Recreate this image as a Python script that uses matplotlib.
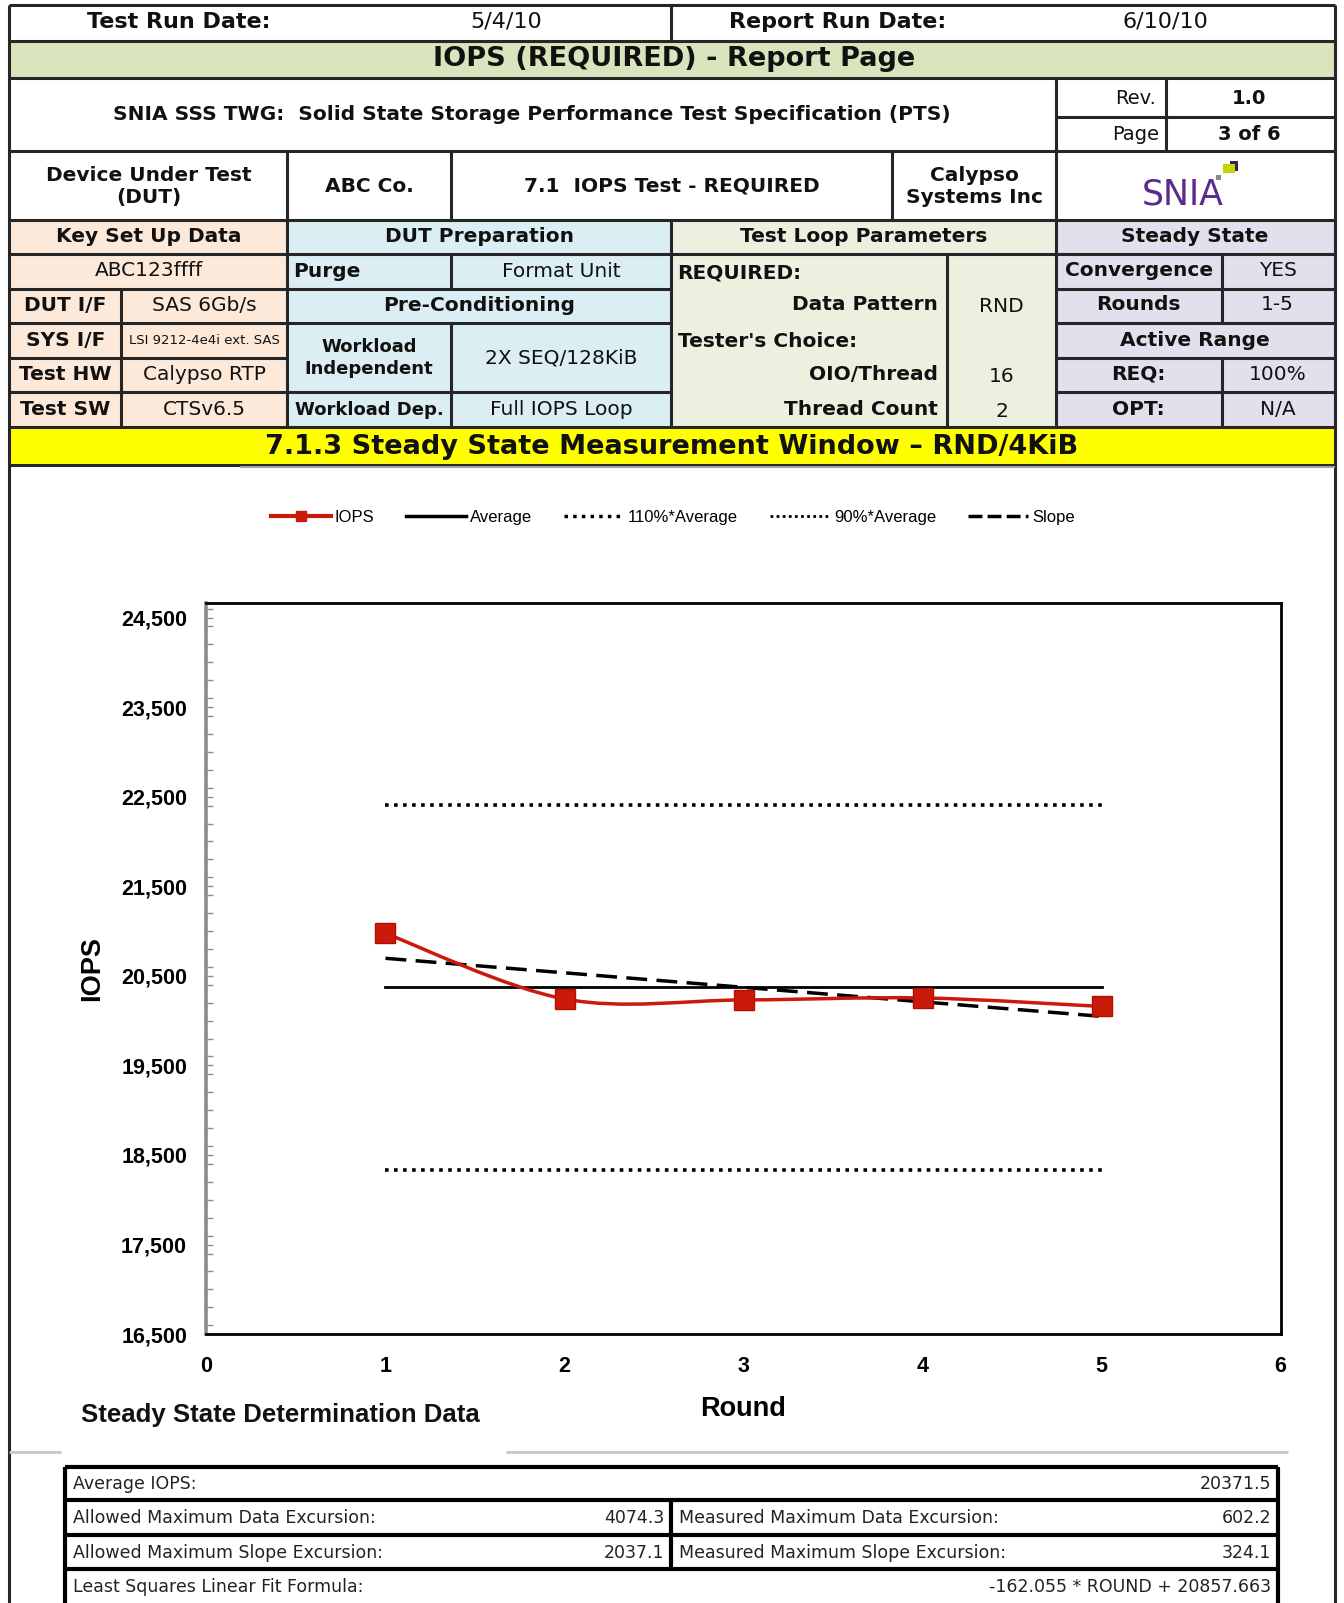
import numpy as np
import matplotlib
matplotlib.use('Agg')
import matplotlib.pyplot as plt
from matplotlib.patches import Rectangle, PathPatch
from matplotlib.path import Path
from matplotlib.lines import Line2D
from matplotlib.ticker import MultipleLocator, FuncFormatter

# ========== data ==========
rounds = [1, 2, 3, 4, 5]
iops = [20973.7, 20242.0, 20230.8, 20253.0, 20158.0]
avg_iops = 20371.5
slope_m = -162.055
slope_b = 20857.663
x_ticks = [0, 1, 2, 3, 4, 5, 6]
y_ticks = [16500, 17500, 18500, 19500, 20500, 21500, 22500, 23500, 24500]

summary_rows = [
    ('Average IOPS:', '20371.5'),
    ('Allowed Maximum Data Excursion:', '4074.3', 'Measured Maximum Data Excursion:', '602.2'),
    ('Allowed Maximum Slope Excursion:', '2037.1', 'Measured Maximum Slope Excursion:', '324.1'),
    ('Least Squares Linear Fit Formula:', '-162.055 * ROUND + 20857.663'),
]

# ========== colours / fonts ==========
C_GREEN = '#d7e4bc'
C_PEACH = '#fde9d9'
C_BLUE = '#daeef3'
C_LGREEN = '#ebf1de'
C_LAV = '#e4dfec'
C_YELLOW = '#ffff00'
C_LINE = '#262626'
C_RED = '#cc1a0a'

HDR = ['DejaVu Sans']
ARIAL = ['Liberation Sans', 'DejaVu Sans']
NARROW = ['Liberation Sans Narrow', 'Liberation Sans', 'DejaVu Sans']

FS = 14.5  # header cell text size

W, H = 1315, 1568  # working coords (scaled to 1344x1603 on output)
fig = plt.figure(figsize=(13.44, 16.03), dpi=100)
fig.patch.set_facecolor('white')

ov = fig.add_axes([0, 0, 1, 1])
ov.set_xlim(0, W)
ov.set_ylim(H, 0)
ov.axis('off')
ov.patch.set_alpha(0)


def rect(x0, y0, x1, y1, fc):
    ov.add_patch(Rectangle((x0, y0), x1 - x0, y1 - y0, facecolor=fc, edgecolor='none', zorder=1))


def hl(y, x0, x1, lw=2.2, c=C_LINE):
    ov.plot([x0, x1], [y, y], color=c, lw=lw, solid_capstyle='butt', zorder=3)


def vl(x, y0, y1, lw=2.2, c=C_LINE):
    ov.plot([x, x], [y0, y1], color=c, lw=lw, solid_capstyle='butt', zorder=3)


def tx(x, y, s, size=FS, bold=False, ha='center', fam=HDR, color='#111111', ls=1.0):
    ov.text(x, y, s, fontsize=size, fontweight='bold' if bold else 'normal', ha=ha, va='center',
            family=fam, color=color, linespacing=ls, zorder=4)


L, R = 9, 1306

# ========== header ==========
rect(L, 40, R, 76, C_GREEN)
rect(L, 215, 281, 418, C_PEACH)
rect(281, 215, 657, 418, C_BLUE)
rect(657, 215, 1033, 418, C_LGREEN)
rect(1033, 215, R, 418, C_LAV)
rect(L, 418, R, 455, C_YELLOW)

for y in [5, 40, 76, 148, 215, 248, 418, 455]:
    hl(y, L, R)
vl(L, 5, H)
vl(R, 5, H)
vl(657, 5, 40)

# row 1
tx(175, 22, 'Test Run Date:', size=16, bold=True)
tx(495, 21, '5/4/10', size=16)
tx(820, 22, 'Report Run Date:', size=16, bold=True)
tx(1140, 21, '6/10/10', size=16)
# row 2
tx(660, 58, 'IOPS (REQUIRED) - Report Page', size=19.5, bold=True)
# row 3
tx(520, 112, 'SNIA SSS TWG:  Solid State Storage Performance Test Specification (PTS)', size=14.5, bold=True)
vl(1033, 76, 148)
vl(1141, 76, 148)
hl(114, 1033, R)
tx(1111, 96, 'Rev.', size=14)
tx(1222, 96, '1.0', size=14, bold=True)
tx(1111, 132, 'Page', size=14)
tx(1222, 132, '3 of 6', size=14, bold=True)
# row 4
for x in [281, 441, 873, 1033]:
    vl(x, 148, 215)
tx(146, 182, 'Device Under Test\n(DUT)', bold=True, ls=1.2)
tx(361, 182, 'ABC Co.', bold=True)
tx(657, 182, '7.1  IOPS Test - REQUIRED', bold=True)
tx(953, 182, 'Calypso\nSystems Inc', bold=True, ls=1.2)
tx(1157, 190, 'SNIA', size=25, color='#5b2a8c')
ov.add_patch(Rectangle((1197, 160), 11, 9, facecolor='#c6d300', edgecolor='none', zorder=4))
ov.add_patch(Rectangle((1203, 157), 7, 3, facecolor='#3a1f5c', edgecolor='none', zorder=4))
ov.add_patch(Rectangle((1208, 157), 3, 10, facecolor='#3a1f5c', edgecolor='none', zorder=4))
ov.add_patch(Rectangle((1190, 171), 5, 5, facecolor='#8a8a8a', edgecolor='none', zorder=4))

# row 5 headers
for x in [281, 657, 1033]:
    vl(x, 215, 418)
tx(146, 231, 'Key Set Up Data', bold=True)
tx(469, 231, 'DUT Preparation', bold=True)
tx(845, 231, 'Test Loop Parameters', bold=True)
tx(1169, 231, 'Steady State', bold=True)

# key set up data
for y in [283, 316, 350, 383]:
    hl(y, L, 281)
vl(118, 283, 418)
tx(146, 265, 'ABC123ffff')
tx(64, 299, 'DUT I/F', bold=True)
tx(200, 299, 'SAS 6Gb/s')
tx(64, 333, 'SYS I/F', bold=True)
tx(200, 333, 'LSI 9212-4e4i ext. SAS', size=9.5)
tx(64, 366, 'Test HW', bold=True)
tx(200, 366, 'Calypso RTP')
tx(64, 401, 'Test SW', bold=True)
tx(200, 401, 'CTSv6.5')

# DUT preparation
for y in [283, 316, 383]:
    hl(y, 281, 657)
vl(441, 248, 283)
vl(441, 316, 418)
tx(287, 266, 'Purge', bold=True, ha='left')
tx(549, 266, 'Format Unit')
tx(469, 299, 'Pre-Conditioning', bold=True)
tx(361, 350, 'Workload\nIndependent', size=13, bold=True, ls=1.3)
tx(549, 350, '2X SEQ/128KiB')
tx(361, 401, 'Workload Dep.', size=13, bold=True)
tx(549, 401, 'Full IOPS Loop')

# test loop parameters
vl(927, 248, 418)
tx(663, 267, 'REQUIRED:', bold=True, ha='left')
tx(918, 298, 'Data Pattern', bold=True, ha='right')
tx(980, 300, 'RND')
tx(663, 334, "Tester's Choice:", bold=True, ha='left')
tx(918, 366, 'OIO/Thread', bold=True, ha='right')
tx(980, 368, '16')
tx(918, 401, 'Thread Count', bold=True, ha='right')
tx(980, 403, '2')

# steady state
for y in [283, 316, 350, 383]:
    hl(y, 1033, R)
vl(1196, 248, 316)
vl(1196, 350, 418)
tx(1114, 265, 'Convergence', bold=True)
tx(1250, 265, 'YES')
tx(1114, 298, 'Rounds', bold=True)
tx(1250, 298, '1-5')
tx(1169, 333, 'Active Range', bold=True)
tx(1114, 366, 'REQ:', bold=True)
tx(1250, 366, '100%')
tx(1114, 401, 'OPT:', bold=True)
tx(1250, 401, 'N/A')

tx(657, 437, '7.1.3 Steady State Measurement Window \u2013 RND/4KiB', size=19.5, bold=True)
hl(457, 235, R, lw=1.5, c='#a0a0a0')

# ========== chart ==========
ax = fig.add_axes([202 / W, 1 - 1305 / H, (1253 - 202) / W, (1305 - 590) / H])
ax.set_xlim(0, 6)
ax.set_ylim(16500, 24660)

avg_hi = 1.1 * avg_iops
avg_lo = 0.9 * avg_iops
xr = [rounds[0], rounds[-1]]
ax.plot(xr, [avg_iops, avg_iops], color='black', lw=2.0, zorder=2)
ax.plot(xr, [avg_hi, avg_hi], color='black', lw=2.6, ls=(0, (1, 1.5)), zorder=2)
ax.plot(xr, [avg_lo, avg_lo], color='black', lw=2.6, ls=(0, (1, 1.5)), zorder=2)
ax.plot(xr, [slope_m * xr[0] + slope_b, slope_m * xr[1] + slope_b], color='black', lw=2.5,
        ls=(0, (6, 2.7)), zorder=3)

# Excel-style smoothed line through the points
pts = np.column_stack([rounds, iops])
ext = np.vstack([pts[0], pts, pts[-1]])
verts = [tuple(pts[0])]
codes = [Path.MOVETO]
for i in range(len(pts) - 1):
    p0, p1, p2, p3 = ext[i], ext[i + 1], ext[i + 2], ext[i + 3]
    verts += [tuple(p1 + (p2 - p0) / 6), tuple(p2 - (p3 - p1) / 6), tuple(p2)]
    codes += [Path.CURVE4] * 3
ax.add_patch(PathPatch(Path(verts, codes), facecolor='none', edgecolor=C_RED, lw=2.5, zorder=4))
ax.plot(rounds, iops, ls='none', marker='s', ms=15, color=C_RED, mec='#b01000', zorder=5)

ax.set_xticks(x_ticks)
ax.set_yticks(y_ticks)
ax.yaxis.set_minor_locator(MultipleLocator(200))
ax.yaxis.set_major_formatter(FuncFormatter(lambda v, p: f'{v:,.0f}'))
ax.tick_params(axis='y', which='both', direction='in', length=5, width=1, color='#8c8c8c', pad=14)
ax.tick_params(axis='x', length=0, pad=16)
for lab in ax.get_xticklabels() + ax.get_yticklabels():
    lab.set_family(ARIAL)
    lab.set_fontweight('bold')
    lab.set_fontsize(15.5)
for s in ['top', 'right', 'bottom']:
    ax.spines[s].set_color('black')
    ax.spines[s].set_linewidth(2.0)
ax.spines['left'].set_color('#8c8c8c')
ax.spines['left'].set_linewidth(2.6)

ax.set_xlabel('Round', family=NARROW, fontsize=19.5, fontweight='bold')
ax.xaxis.set_label_coords(0.5, -0.085)
ax.set_ylabel('IOPS', family=NARROW, fontsize=19.5, fontweight='bold')
ax.yaxis.set_label_coords(-0.094, 0.5)

handles = [
    Line2D([], [], color=C_RED, lw=3, marker='s', ms=7),
    Line2D([], [], color='black', lw=2.5),
    Line2D([], [], color='black', lw=2.5, ls=(0, (1, 1.5))),
    Line2D([], [], color='black', lw=2.0, ls=(0, (1, 1.2))),
    Line2D([], [], color='black', lw=2.5, ls=(0, (4, 1.5))),
]
labels = ['IOPS', 'Average', '110%*Average', '90%*Average', 'Slope']
fig.legend(handles, labels, loc='center', bbox_to_anchor=(658 / W, 1 - 506 / H), ncol=5,
           frameon=False, prop={'family': NARROW, 'size': 12}, handlelength=3.6,
           handletextpad=0.25, columnspacing=1.9)

# ========== steady state summary ==========
tx(79, 1384, 'Steady State Determination Data', size=18.5, bold=True, ha='left', fam=ARIAL)
hl(1420, L, 60, lw=2, c='#c8c8c8')
hl(1420, 495, 1260, lw=2, c='#c8c8c8')

TL, TR, TM = 64, 1250, 657
row_y = [1435, 1467, 1501, 1535, 1568]
for y in row_y[:-1]:
    hl(y, TL, TR, lw=3, c='black')
vl(TL, row_y[0], H, lw=3, c='black')
vl(TR, row_y[0], H, lw=3, c='black')
vl(TM, row_y[1], row_y[3], lw=3, c='black')
TS = 12.5
for i, row in enumerate(summary_rows):
    yc = (row_y[i] + row_y[i + 1]) / 2 + 1
    tx(71, yc, row[0], size=TS, ha='left', color='#222222')
    if len(row) == 2:
        tx(1244, yc, row[1], size=TS, ha='right', color='#222222')
    else:
        tx(650, yc, row[1], size=TS, ha='right', color='#222222')
        tx(664, yc, row[2], size=TS, ha='left', color='#222222')
        tx(1244, yc, row[3], size=TS, ha='right', color='#222222')

fig.savefig('out.png', dpi=100)
